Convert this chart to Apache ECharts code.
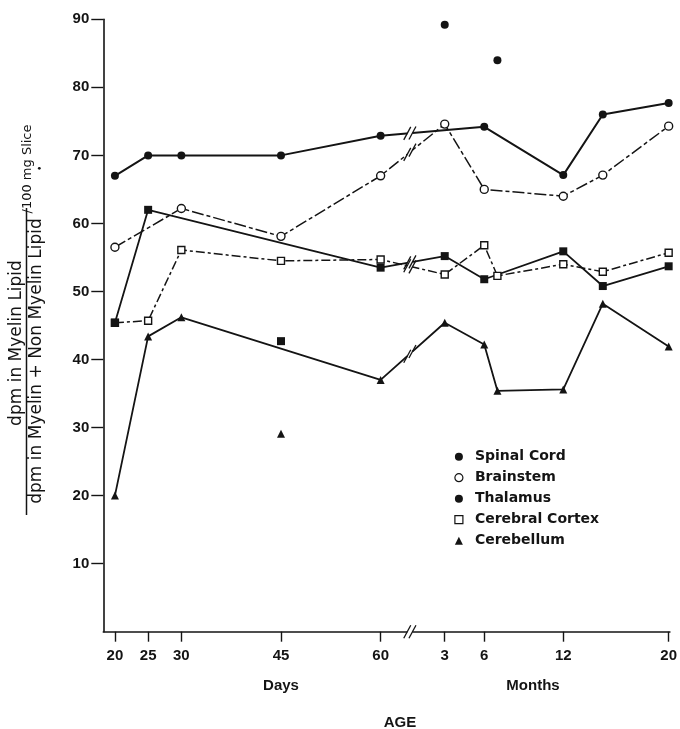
<!DOCTYPE html>
<html>
<head>
<meta charset="utf-8">
<script src="https://cdn.jsdelivr.net/npm/echarts@6/dist/echarts.min.js"></script>
<style>
html,body{margin:0;padding:0;background:#fff;}
#chart{width:680px;height:729px;}
</style>
</head>
<body>
<div id="chart"></div>
<script>
// ---- Data (ages: "d" = days, "m" = months) ----
const dayTicks = [20, 25, 30, 45, 60];
const monthTicks = [3, 6, 12, 20];
const yTicks = [10, 20, 30, 40, 50, 60, 70, 80, 90];

const spinalCordAges   = ['20d','25d','30d','45d','60d','6m','12m','15m','20m'];
const spinalCordValues = [67.0, 70.0, 70.0, 70.0, 72.9, 74.2, 67.1, 76.0, 77.7];
const spinalCordExtraAges   = ['3m','7m'];
const spinalCordExtraValues = [89.2, 84.0];

const brainstemAges   = ['20d','30d','45d','60d','3m','6m','12m','15m','20m'];
const brainstemValues = [56.5, 62.2, 58.1, 67.0, 74.6, 65.0, 64.0, 67.1, 74.3];

const thalamusAges   = ['20d','25d','60d','3m','6m','12m','15m','20m'];
const thalamusValues = [45.4, 62.0, 53.5, 55.2, 51.8, 55.9, 50.8, 53.7];
const thalamusExtraAges   = ['45d'];
const thalamusExtraValues = [42.7];

const cortexAges   = ['20d','25d','30d','45d','60d','3m','6m','7m','12m','15m','20m'];
const cortexValues = [45.4, 45.7, 56.1, 54.5, 54.7, 52.5, 56.8, 52.3, 54.0, 52.9, 55.7];

const cerebellumAges   = ['20d','25d','30d','60d','3m','6m','7m','12m','15m','20m'];
const cerebellumValues = [20.0, 43.4, 46.2, 37.0, 45.4, 42.2, 35.4, 35.6, 48.2, 41.9];
const cerebellumExtraAges   = ['45d'];
const cerebellumExtraValues = [29.1];

// ---- Broken age scale: days linear, then months linear after a break ----
const MONTH_START = 69.65;   // axis position of 3 months
const MONTH_UNIT = 1.983;    // axis units per month
const BREAK_POS = 64.4;
function agePos(a) {
  const n = parseFloat(a);
  return a.endsWith('m') ? MONTH_START + (n - 3) * MONTH_UNIT : n;
}
function pairs(ages, vals) { return ages.map((a, i) => [agePos(a), vals[i]]); }

const tickPositions = dayTicks.map(d => agePos(d + 'd')).concat(monthTicks.map(m => agePos(m + 'm')));
const tickLabelMap = {};
dayTicks.forEach(d => { tickLabelMap[agePos(d + 'd').toFixed(2)] = String(d); });
monthTicks.forEach(m => { tickLabelMap[agePos(m + 'm').toFixed(2)] = String(m); });

const INK = '#141414';
const FONT = '"Liberation Sans", Arial, sans-serif';
const TITLE_FONT = '"DejaVu Sans", sans-serif';

function lineSeries(name, data, symbol, filled, size, dash, width) {
  return {
    name, type: 'line', data, symbol, symbolSize: size,
    lineStyle: { color: INK, width: width, type: dash },
    itemStyle: { color: filled ? INK : '#fff', borderColor: INK, borderWidth: filled ? 0 : 1.4, opacity: 1 },
    emphasis: { disabled: true },
    z: 3
  };
}
function scatterSeries(name, data, symbol, size) {
  return {
    name, type: 'scatter', data, symbol, symbolSize: size,
    itemStyle: { color: INK, opacity: 1 }, emphasis: { disabled: true }, z: 4
  };
}

const chart = echarts.init(document.getElementById('chart'), null, { renderer: 'canvas' });

const option = {
  backgroundColor: '#fff',
  animation: false,
  grid: { left: 103.3, right: 8, top: 19.3, bottom: 97.3, containLabel: false },
  xAxis: {
    type: 'value', min: 18.25, max: 103.55,
    splitLine: { show: false },
    axisLine: { lineStyle: { color: INK, width: 1.6 } },
    axisTick: { customValues: tickPositions, length: 10, inside: false, lineStyle: { color: INK, width: 1.4 } },
    axisLabel: {
      customValues: tickPositions, margin: 17,
      fontFamily: FONT, fontSize: 15, fontWeight: 'bold', color: INK,
      formatter: v => tickLabelMap[Number(v).toFixed(2)] || ''
    }
  },
  yAxis: {
    type: 'value', min: 0, max: 90, interval: 10,
    splitLine: { show: false },
    axisLine: { show: true, lineStyle: { color: INK, width: 1.6 } },
    axisTick: { customValues: yTicks, length: 12, lineStyle: { color: INK, width: 1.4 } },
    axisLabel: {
      customValues: yTicks,
      margin: 14, fontFamily: FONT, fontSize: 15, fontWeight: 'bold', color: INK,
      formatter: v => String(v)
    }
  },
  legend: {
    orient: 'vertical', left: 449.3, top: 444.7,
    itemWidth: 8, itemHeight: 8, itemGap: 7,
    textStyle: { fontFamily: TITLE_FONT, fontSize: 14, fontWeight: 'bold', color: INK, lineHeight: 14, padding: [0, 0, 0, 7] },
    selectedMode: false,
    data: [
      { name: 'Spinal Cord', icon: 'circle', itemStyle: { color: INK, borderWidth: 0 } },
      { name: 'Brainstem', icon: 'circle', itemStyle: { color: '#fff', borderColor: INK, borderWidth: 1.2 } },
      { name: 'Thalamus', icon: 'circle', itemStyle: { color: INK, borderWidth: 0 } },
      { name: 'Cerebral Cortex', icon: 'rect', itemStyle: { color: '#fff', borderColor: INK, borderWidth: 1.2 } },
      { name: 'Cerebellum', icon: 'triangle', itemStyle: { color: INK, borderWidth: 0 } }
    ]
  },
  series: [
    lineSeries('Cerebral Cortex', pairs(cortexAges, cortexValues), 'rect', false, 7, [9, 3, 3, 3], 1.5),
    lineSeries('Brainstem', pairs(brainstemAges, brainstemValues), 'circle', false, 8, [12, 3, 4, 3], 1.5),
    lineSeries('Spinal Cord', pairs(spinalCordAges, spinalCordValues), 'circle', true, 8, 'solid', 2),
    lineSeries('Thalamus', pairs(thalamusAges, thalamusValues), 'rect', true, 8, 'solid', 1.8),
    lineSeries('Cerebellum', pairs(cerebellumAges, cerebellumValues), 'triangle', true, 8, 'solid', 1.8),
    scatterSeries('Spinal Cord', pairs(spinalCordExtraAges, spinalCordExtraValues), 'circle', 8),
    scatterSeries('Thalamus', pairs(thalamusExtraAges, thalamusExtraValues), 'rect', 8),
    scatterSeries('Cerebellum', pairs(cerebellumExtraAges, cerebellumExtraValues), 'triangle', 8)
  ]
};
chart.setOption(option);

// ---- decorations: axis title fraction, unit labels, break marks ----
const g = [];
function vtext(text, x, y, size, weight) {
  return { type: 'text', x, y, rotation: Math.PI / 2, z: 10,
    style: { text, fontFamily: TITLE_FONT, fontSize: size, fontWeight: weight || 'normal', fill: INK, align: 'center', verticalAlign: 'middle' } };
}
g.push(vtext('dpm in Myelin Lipid', 16.5, 343, 17, 'normal'));
g.push({ type: 'line', z: 10, shape: { x1: 26.5, y1: 515, x2: 26.5, y2: 208 }, style: { stroke: INK, lineWidth: 1.5 } });
g.push(vtext('dpm in Myelin + Non Myelin Lipid', 36.5, 361, 17, 'normal'));
g.push(vtext('/100 mg Slice', 28, 169, 13, 'normal'));
g.push({ type: 'circle', z: 10, shape: { cx: 39.3, cy: 168.3, r: 1.4 }, style: { fill: INK } });

function htext(text, x, y, size, weight) {
  return { type: 'text', x, y, z: 10,
    style: { text, fontFamily: FONT, fontSize: size, fontWeight: weight, fill: INK, align: 'center', verticalAlign: 'middle' } };
}
g.push(htext('Days', 281, 686, 15, 'bold'));
g.push(htext('Months', 533, 686, 15, 'bold'));
g.push(htext('AGE', 400, 723, 15, 'bold'));

function breakMark(px, py, slope) {
  const dx = 2.5;
  g.push({ type: 'line', z: 8, shape: { x1: px - dx, y1: py - slope * dx, x2: px + dx, y2: py + slope * dx }, style: { stroke: '#fff', lineWidth: 4 } });
  [-2.6, 2.6].forEach(o => {
    const cx = px + o, cy = py + slope * o;
    g.push({ type: 'line', z: 9, shape: { x1: cx - 3.5, y1: cy + 6.5, x2: cx + 3.5, y2: cy - 6.5 }, style: { stroke: INK, lineWidth: 1.3 } });
  });
}
const axisBreak = chart.convertToPixel({ gridIndex: 0 }, [BREAK_POS, 0]);
breakMark(axisBreak[0], axisBreak[1], 0);
[[spinalCordAges, spinalCordValues], [brainstemAges, brainstemValues], [thalamusAges, thalamusValues],
 [cortexAges, cortexValues], [cerebellumAges, cerebellumValues]].forEach(([ages, vals]) => {
  const pts = pairs(ages, vals);
  for (let i = 0; i < pts.length - 1; i++) {
    if (pts[i][0] < BREAK_POS && pts[i + 1][0] > BREAK_POS) {
      const p1 = chart.convertToPixel({ gridIndex: 0 }, pts[i]);
      const p2 = chart.convertToPixel({ gridIndex: 0 }, pts[i + 1]);
      const slope = (p2[1] - p1[1]) / (p2[0] - p1[0]);
      breakMark(axisBreak[0], p1[1] + slope * (axisBreak[0] - p1[0]), slope);
    }
  }
});
chart.setOption({ graphic: g });
</script>
</body>
</html>
